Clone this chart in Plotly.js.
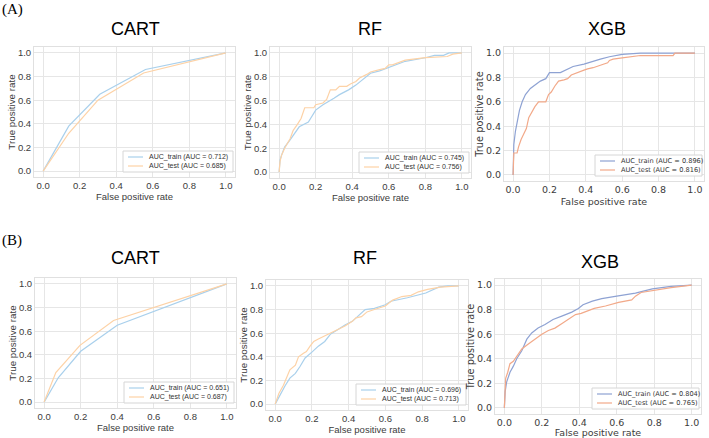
<!DOCTYPE html>
<html>
<head>
<meta charset="utf-8">
<script src="https://cdn.plot.ly/plotly-3.0.1.min.js"></script>
<style>html,body{margin:0;padding:0;background:#fff}#chart{width:709px;height:438px}</style>
</head>
<body>
<div id="chart"></div>
<script>
// ---------- DATA ----------
var tickVals = [0, 0.2, 0.4, 0.6, 0.8, 1.0];
var tickText = ["0.0", "0.2", "0.4", "0.6", "0.8", "1.0"];
var panelTitles = ["CART", "RF", "XGB", "CART", "RF", "XGB"];
var groupLabels = ["(A)", "(B)"];
var trainNames = ["AUC_train (AUC = 0.712)", "AUC_train (AUC = 0.745)", "AUC_train (AUC = 0.896)",
                  "AUC_train (AUC = 0.651)", "AUC_train (AUC = 0.696)", "AUC_train (AUC = 0.804)"];
var testNames  = ["AUC_test (AUC = 0.685)", "AUC_test (AUC = 0.756)", "AUC_test (AUC = 0.816)",
                  "AUC_test (AUC = 0.687)", "AUC_test (AUC = 0.713)", "AUC_test (AUC = 0.765)"];

// (A) CART
var cartA_train_fpr = [0, 0.14, 0.31, 0.56, 1.0];
var cartA_train_tpr = [0, 0.38, 0.65, 0.86, 1.0];
var cartA_test_fpr  = [0, 0.14, 0.30, 0.55, 1.0];
var cartA_test_tpr  = [0, 0.32, 0.60, 0.83, 1.0];
// (A) RF
var rfA_train_fpr = [0, 0.005, 0.013, 0.03, 0.06, 0.086, 0.11, 0.16, 0.18, 0.20, 0.24, 0.27, 0.30, 0.33, 0.38, 0.42, 0.48, 0.50, 0.55, 0.60, 0.69, 0.80, 0.85, 0.90, 0.93, 1.0];
var rfA_train_tpr = [0, 0.10, 0.14, 0.21, 0.27, 0.33, 0.38, 0.42, 0.47, 0.52, 0.565, 0.59, 0.62, 0.65, 0.69, 0.73, 0.81, 0.83, 0.85, 0.88, 0.93, 0.96, 0.98, 0.98, 1.0, 1.0];
var rfA_test_fpr  = [0, 0.005, 0.013, 0.03, 0.06, 0.077, 0.10, 0.12, 0.14, 0.19, 0.20, 0.24, 0.26, 0.28, 0.31, 0.33, 0.37, 0.39, 0.42, 0.44, 0.48, 0.50, 0.55, 0.58, 0.60, 0.62, 0.69, 0.80, 0.92, 0.95, 1.0];
var rfA_test_tpr  = [0, 0.09, 0.14, 0.20, 0.28, 0.35, 0.40, 0.45, 0.54, 0.54, 0.565, 0.58, 0.61, 0.69, 0.69, 0.72, 0.72, 0.74, 0.76, 0.79, 0.82, 0.84, 0.86, 0.87, 0.90, 0.90, 0.94, 0.96, 0.97, 0.99, 1.0];
// (A) XGB
var xgbA_train_fpr = [0, 0.004, 0.013, 0.022, 0.035, 0.05, 0.068, 0.095, 0.12, 0.15, 0.18, 0.20, 0.26, 0.29, 0.33, 0.39, 0.43, 0.48, 0.53, 0.60, 0.70, 1.0];
var xgbA_train_tpr = [0, 0.25, 0.36, 0.44, 0.53, 0.60, 0.66, 0.71, 0.74, 0.77, 0.79, 0.84, 0.84, 0.86, 0.89, 0.91, 0.93, 0.95, 0.97, 0.99, 1.0, 1.0];
var xgbA_test_fpr  = [0, 0.004, 0.022, 0.03, 0.044, 0.058, 0.073, 0.086, 0.104, 0.12, 0.14, 0.18, 0.195, 0.21, 0.23, 0.25, 0.28, 0.30, 0.32, 0.35, 0.39, 0.41, 0.44, 0.48, 0.52, 0.53, 0.55, 0.60, 0.65, 0.70, 0.88, 0.89, 1.0];
var xgbA_test_tpr  = [0, 0.18, 0.18, 0.23, 0.29, 0.33, 0.38, 0.47, 0.52, 0.56, 0.60, 0.60, 0.66, 0.68, 0.73, 0.77, 0.78, 0.79, 0.82, 0.84, 0.86, 0.87, 0.88, 0.90, 0.92, 0.94, 0.95, 0.96, 0.97, 0.98, 0.98, 1.0, 1.0];
// (B) CART
var cartB_train_fpr = [0, 0.077, 0.20, 0.40, 1.0];
var cartB_train_tpr = [0, 0.206, 0.43, 0.65, 1.0];
var cartB_test_fpr  = [0, 0.064, 0.196, 0.38, 1.0];
var cartB_test_tpr  = [0, 0.25, 0.48, 0.69, 1.0];
// (B) RF
var rfB_train_fpr = [0, 0.027, 0.054, 0.08, 0.11, 0.136, 0.163, 0.20, 0.235, 0.27, 0.30, 0.34, 0.38, 0.42, 0.45, 0.49, 0.54, 0.60, 0.63, 0.72, 0.82, 0.89, 0.94, 1.0];
var rfB_train_tpr = [0, 0.08, 0.155, 0.22, 0.26, 0.32, 0.39, 0.44, 0.49, 0.53, 0.59, 0.63, 0.67, 0.70, 0.74, 0.80, 0.81, 0.84, 0.87, 0.90, 0.94, 0.99, 1.0, 1.0];
var rfB_test_fpr  = [0, 0.02, 0.045, 0.063, 0.08, 0.11, 0.127, 0.154, 0.17, 0.19, 0.21, 0.235, 0.26, 0.30, 0.335, 0.38, 0.42, 0.44, 0.47, 0.50, 0.54, 0.60, 0.64, 0.69, 0.74, 0.78, 0.83, 0.90, 1.0];
var rfB_test_tpr  = [0, 0.09, 0.16, 0.23, 0.29, 0.33, 0.40, 0.43, 0.445, 0.49, 0.53, 0.55, 0.57, 0.60, 0.63, 0.66, 0.70, 0.73, 0.74, 0.78, 0.80, 0.83, 0.88, 0.91, 0.92, 0.95, 0.97, 0.99, 1.0];
// (B) XGB
var xgbB_train_fpr = [0, 0.004, 0.012, 0.03, 0.048, 0.066, 0.093, 0.12, 0.146, 0.18, 0.217, 0.26, 0.31, 0.36, 0.395, 0.42, 0.47, 0.52, 0.60, 0.70, 0.79, 0.89, 1.0];
var xgbB_train_tpr = [0, 0.13, 0.21, 0.29, 0.34, 0.40, 0.465, 0.56, 0.61, 0.65, 0.68, 0.72, 0.75, 0.78, 0.81, 0.84, 0.87, 0.89, 0.91, 0.935, 0.97, 0.99, 1.0];
var xgbB_test_fpr  = [0, 0.007, 0.018, 0.03, 0.048, 0.075, 0.093, 0.128, 0.164, 0.20, 0.235, 0.27, 0.31, 0.34, 0.38, 0.41, 0.45, 0.48, 0.54, 0.61, 0.68, 0.70, 0.73, 0.80, 0.89, 1.0];
var xgbB_test_tpr  = [0, 0.24, 0.29, 0.36, 0.38, 0.44, 0.48, 0.52, 0.56, 0.60, 0.63, 0.65, 0.69, 0.72, 0.76, 0.77, 0.79, 0.81, 0.83, 0.86, 0.88, 0.91, 0.94, 0.96, 0.98, 1.0];

var trainX = [cartA_train_fpr, rfA_train_fpr, xgbA_train_fpr, cartB_train_fpr, rfB_train_fpr, xgbB_train_fpr];
var trainY = [cartA_train_tpr, rfA_train_tpr, xgbA_train_tpr, cartB_train_tpr, rfB_train_tpr, xgbB_train_tpr];
var testX  = [cartA_test_fpr, rfA_test_fpr, xgbA_test_fpr, cartB_test_fpr, rfB_test_fpr, xgbB_test_fpr];
var testY  = [cartA_test_tpr, rfA_test_tpr, xgbA_test_tpr, cartB_test_tpr, rfB_test_tpr, xgbB_test_tpr];

// ---------- LAYOUT (pixel boxes of each plot frame: left, top, right, bottom) ----------
var W = 709, H = 438;
var boxes = [[34, 47, 235, 177], [270, 47, 471, 178], [504, 47, 704, 181],
             [35, 278, 236, 408], [266, 280, 468, 410], [495, 279, 701, 414]];
var titlePos = [[135, 29], [370, 29], [607, 29], [135, 258], [365, 258], [600, 262]];
var isXgb = [false, false, true, false, false, true];

var traces = [];
var layout = {
  width: W, height: H,
  margin: {l: 0, r: 0, t: 0, b: 0},
  paper_bgcolor: "#ffffff", plot_bgcolor: "#ffffff",
  showlegend: false,
  annotations: [], shapes: []
};
function px(x) { return x / W; }
function py(y) { return 1 - y / H; }

for (var i = 0; i < 6; i++) {
  var b = boxes[i];
  var fam = isXgb[i] ? "DejaVu Sans, sans-serif" : "Liberation Sans, Arial, sans-serif";
  var cTrain = isXgb[i] ? "#8ea2d3" : "#a9d0ec";
  var cTest  = isXgb[i] ? "#f2a989" : "#fdd2a6";
  var n = i + 1;
  var xa = "x" + (n === 1 ? "" : n), ya = "y" + (n === 1 ? "" : n);
  var xk = "xaxis" + (n === 1 ? "" : n), yk = "yaxis" + (n === 1 ? "" : n);
  var fs = 9.5;

  traces.push({x: trainX[i], y: trainY[i], name: trainNames[i], mode: "lines", type: "scatter",
               xaxis: xa, yaxis: ya, line: {color: cTrain, width: 1.2}});
  traces.push({x: testX[i], y: testY[i], name: testNames[i], mode: "lines", type: "scatter",
               xaxis: xa, yaxis: ya, line: {color: cTest, width: 1.2}});

  var common = {
    range: [-0.05, 1.05], tickvals: tickVals, ticktext: tickText,
    showgrid: true, gridcolor: "#e6e6e6", gridwidth: 1,
    showline: true, linecolor: "#e0e0e0", linewidth: 1, mirror: true,
    zeroline: false, ticks: "", automargin: false, fixedrange: true,
    tickfont: {family: fam, size: fs, color: "#3c3c3c"}
  };
  layout[xk] = Object.assign({}, common, {
    domain: [px(b[0]), px(b[2])], anchor: ya,
    title: {text: "False positive rate", font: {family: fam, size: 9.5, color: "#3c3c3c"}, standoff: isXgb[i] ? 3 : 1}
  });
  layout[yk] = Object.assign({}, common, {
    domain: [py(b[3]), py(b[1])], anchor: xa,
    title: {text: "True positive rate", font: {family: fam, size: 9.8, color: "#3c3c3c"}, standoff: 0}
  });

  // legend box (drawn with shapes + text, matplotlib style)
  var lw = isXgb[i] ? 107 : 110, lh = 21;
  var lr = b[2] - 2, lb = b[3] - 5, ll = lr - lw, lt = lb - lh;
  layout.shapes.push({type: "rect", xref: "paper", yref: "paper",
    x0: px(ll), x1: px(lr), y0: py(lb), y1: py(lt),
    fillcolor: "rgba(255,255,255,0.92)", line: {color: "#d6d6d6", width: 1}, layer: "above"});
  var rows = [[lt + 6, cTrain, trainNames[i]], [lt + 15, cTest, testNames[i]]];
  for (var r = 0; r < 2; r++) {
    layout.shapes.push({type: "line", xref: "paper", yref: "paper",
      x0: px(ll + 5), x1: px(ll + 20), y0: py(rows[r][0]), y1: py(rows[r][0]),
      line: {color: rows[r][1], width: 1.2}, layer: "above"});
    layout.annotations.push({text: rows[r][2], xref: "paper", yref: "paper",
      x: px(ll + 24), y: py(rows[r][0]), xanchor: "left", yanchor: "middle", showarrow: false,
      font: {family: fam, size: isXgb[i] ? 6.6 : 7, color: "#333"}});
  }

  layout.annotations.push({
    text: panelTitles[i], xref: "paper", yref: "paper",
    x: px(titlePos[i][0]), y: py(titlePos[i][1]), xanchor: "center", yanchor: "middle",
    showarrow: false, font: {family: "Liberation Sans, Arial, sans-serif", size: 18, color: "#000"}
  });
}
layout.annotations.push({text: groupLabels[0], xref: "paper", yref: "paper", x: px(0), y: py(10),
  xanchor: "left", yanchor: "middle", showarrow: false,
  font: {family: "Liberation Serif, Times New Roman, serif", size: 15, color: "#000"}});
layout.annotations.push({text: groupLabels[1], xref: "paper", yref: "paper", x: px(0), y: py(240),
  xanchor: "left", yanchor: "middle", showarrow: false,
  font: {family: "Liberation Serif, Times New Roman, serif", size: 15, color: "#000"}});

Plotly.newPlot("chart", traces, layout, {displayModeBar: false, staticPlot: true});
</script>
</body>
</html>
